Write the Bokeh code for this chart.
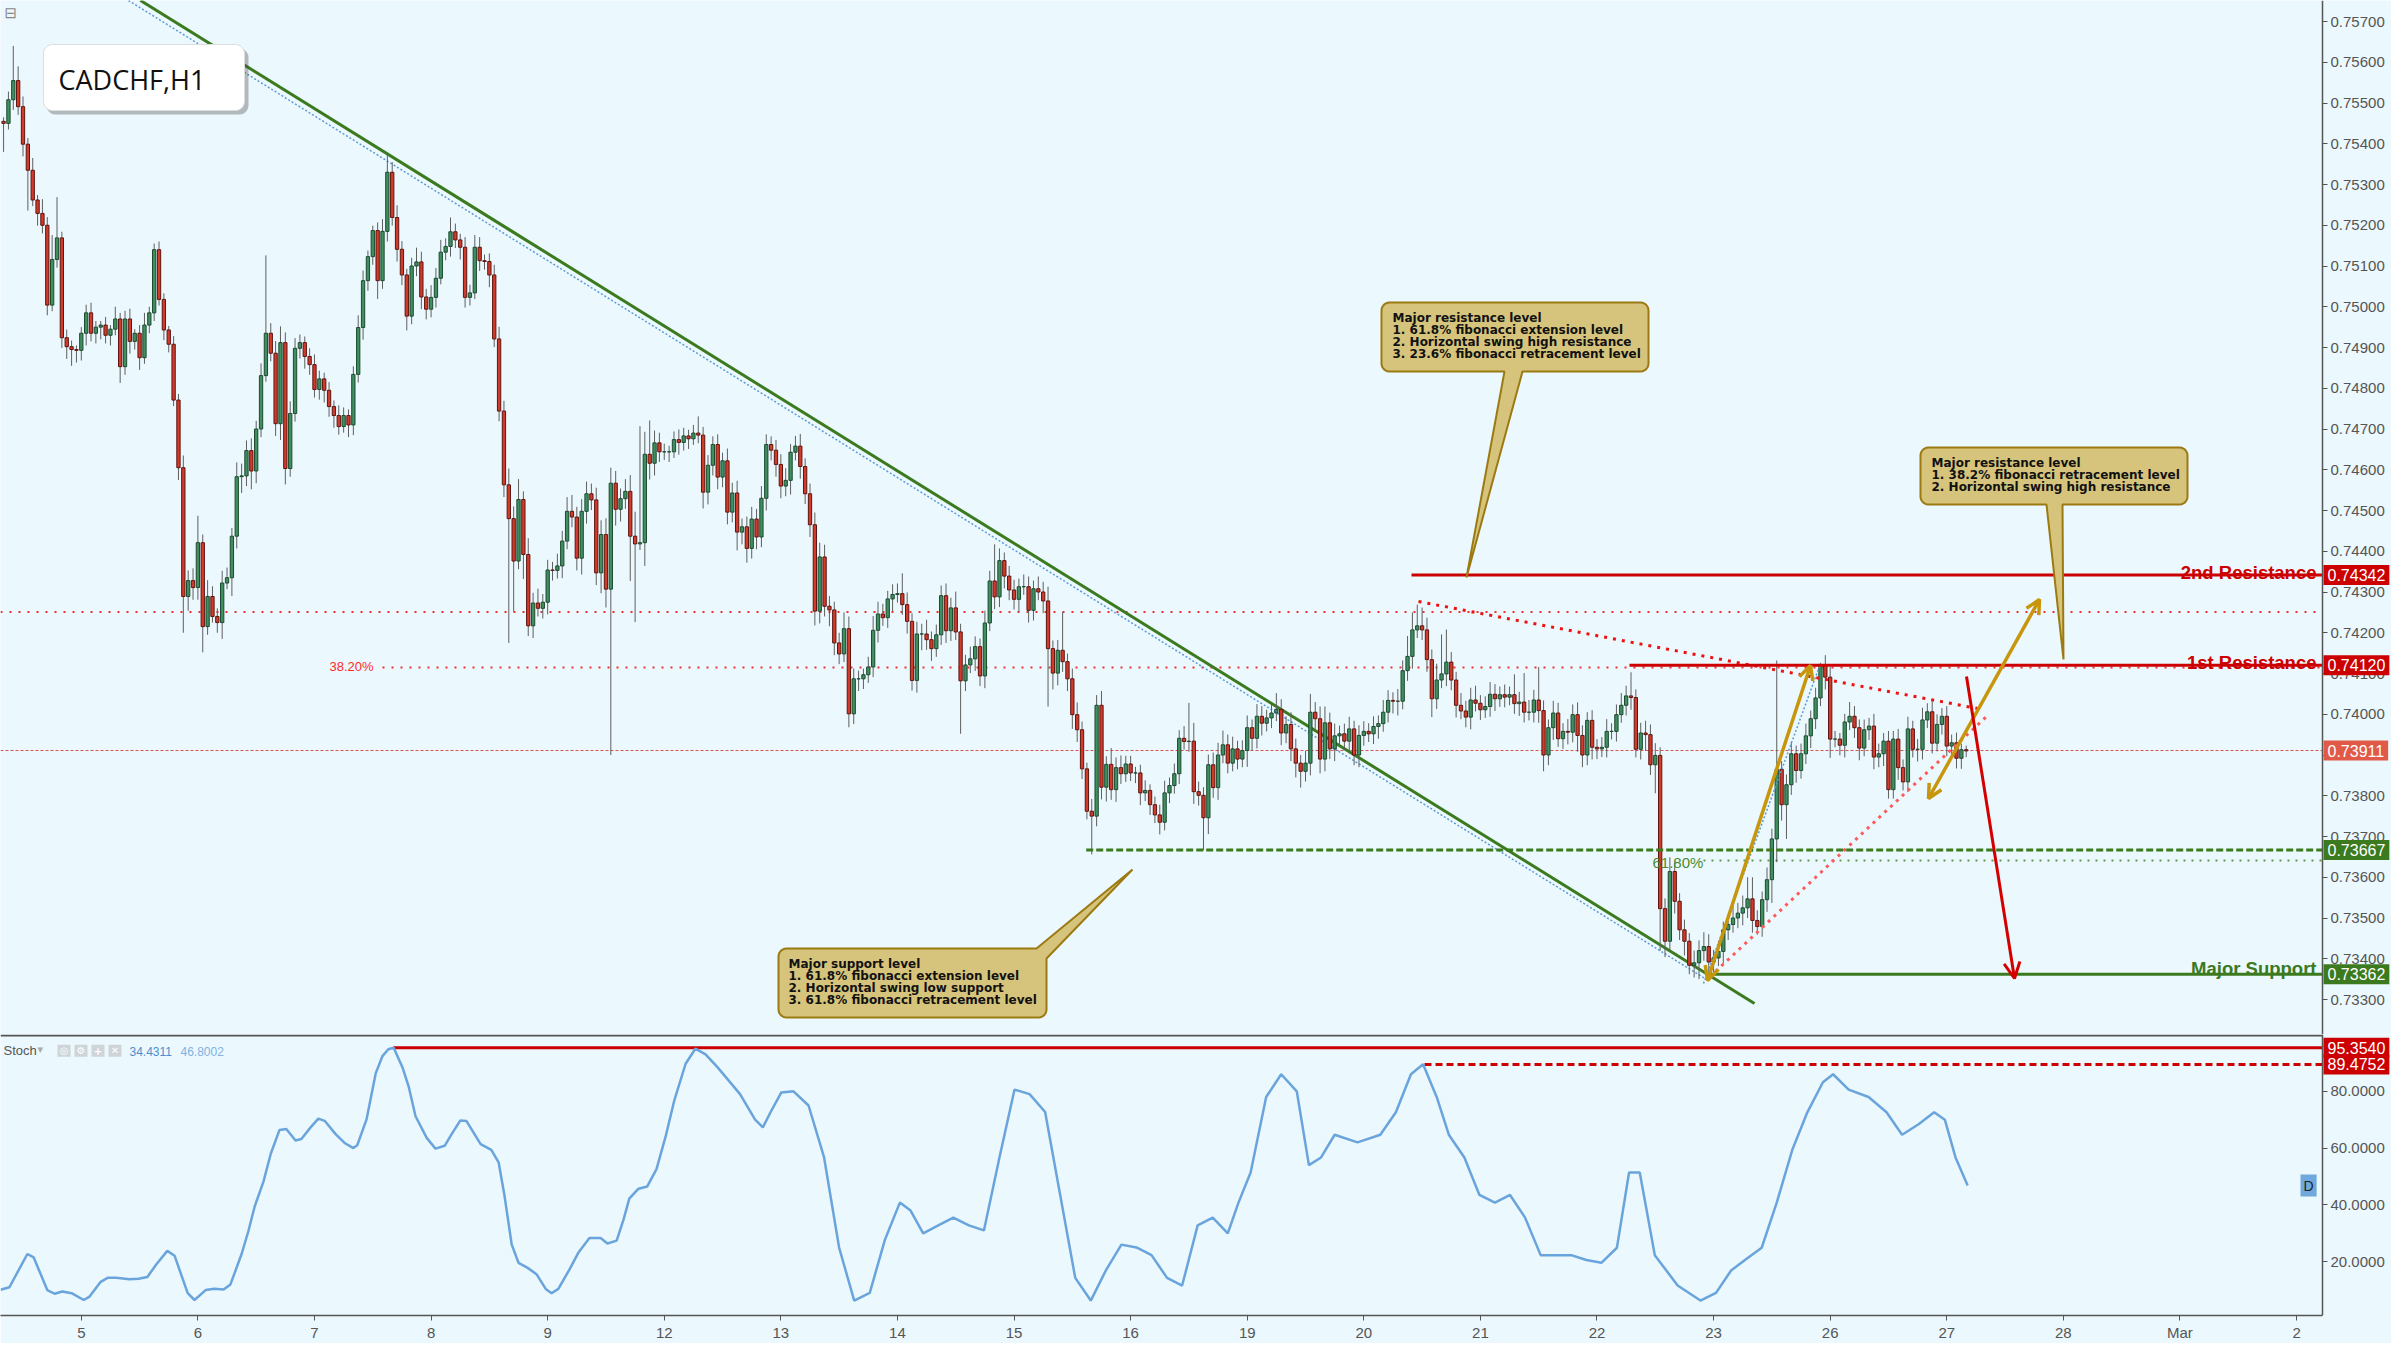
import numpy as np
from bokeh.plotting import figure
from bokeh.layouts import column
from bokeh.models import (Range1d, FixedTicker, NumeralTickFormatter, Label, Arrow, OpenHead, LinearAxis)
from bokeh.embed import file_html
from bokeh.resources import INLINE

# ---------------- DATA ----------------
# hourly CADCHF candles, prices in units of 0.00001; first bar = hour -16 (before the Feb 5 session)
first_open = 75455
close_pre = [75450, 75508, 75555, 75491, 75399, 75335, 75262, 75229, 75200, 75004, 75116, 75169, 74924, 74902, 74895, 74893]
close_d05 = [74935, 74985, 74935, 74950, 74955, 74930, 74945, 74970, 74853, 74970, 74915, 74935, 74875, 74955, 74985, 75140, 75018, 74943, 74908, 74771, 74605, 74289, 74328, 74311]
close_d06 = [74421, 74215, 74289, 74240, 74225, 74322, 74335, 74437, 74583, 74585, 74647, 74597, 74700, 74831, 74935, 74886, 74713, 74912, 74603, 74738, 74898, 74912, 74878, 74858]
close_d07 = [74797, 74823, 74795, 74755, 74733, 74706, 74733, 74710, 74834, 74949, 75064, 75123, 75187, 75064, 75185, 75330, 75219, 75141, 75078, 74977, 75100, 75110, 75024, 74994]
close_d08 = [75023, 75070, 75134, 75148, 75184, 75164, 75146, 75023, 75034, 75146, 75113, 75111, 75078, 74921, 74744, 74563, 74480, 74376, 74527, 74392, 74217, 74273, 74260, 74275]
close_d09 = [74354, 74353, 74364, 74425, 74498, 74484, 74383, 74498, 74541, 74526, 74347, 74441, 74307, 74567, 74503, 74529, 74547, 74437, 74418, 74421, 74638, 74616, 74666, 74644]
close_d12 = [74644, 74644, 74674, 74667, 74683, 74676, 74690, 74685, 74545, 74611, 74662, 74582, 74622, 74496, 74543, 74447, 74460, 74407, 74479, 74435, 74530, 74662, 74648, 74613]
close_d13 = [74560, 74574, 74643, 74658, 74608, 74541, 74465, 74253, 74386, 74265, 74256, 74175, 74148, 74210, 74001, 74087, 74087, 74097, 74116, 74206, 74246, 74237, 74283, 74294]
close_d14 = [74296, 74269, 74228, 74083, 74197, 74197, 74183, 74161, 74195, 74291, 74205, 74261, 74202, 74082, 74121, 74136, 74166, 74094, 74224, 74327, 74288, 74377, 74339, 74305]
close_d15 = [74282, 74313, 74313, 74255, 74308, 74300, 74278, 74161, 74101, 74157, 74129, 74087, 73999, 73962, 73866, 73762, 73750, 74022, 73821, 73877, 73815, 73869, 73854, 73878]
close_d16 = [73856, 73856, 73807, 73813, 73778, 73753, 73735, 73807, 73825, 73854, 73941, 73933, 73934, 73810, 73801, 73746, 73876, 73820, 73900, 73925, 73880, 73915, 73890, 73911]
close_d19 = [73967, 73941, 73995, 73978, 73991, 74003, 74012, 73954, 73975, 73915, 73880, 73860, 73880, 74005, 73989, 73890, 73979, 73915, 73947, 73952, 73934, 73964, 73900, 73948]
close_d20 = [73958, 73952, 73970, 73977, 74005, 74034, 74032, 74032, 74107, 74142, 74207, 74217, 74207, 74134, 74038, 74084, 74099, 74128, 74084, 74022, 74008, 73993, 74035, 74027]
close_d21 = [74011, 74019, 74049, 74038, 74048, 74042, 74048, 74026, 74030, 74005, 74005, 74035, 74009, 73900, 73967, 74003, 73940, 73958, 73956, 73999, 73948, 73900, 73985, 73919]
close_d22 = [73915, 73919, 73958, 73958, 73999, 74022, 74045, 74041, 73914, 73954, 73950, 73876, 73899, 73523, 73443, 73614, 73541, 73471, 73443, 73384, 73390, 73420, 73430, 73392]
close_d23 = [73402, 73418, 73471, 73484, 73500, 73512, 73525, 73547, 73494, 73479, 73545, 73594, 73694, 73865, 73778, 73827, 73903, 73862, 73903, 73947, 73989, 74040, 74120, 74091]
close_d26 = [73939, 73939, 73924, 73981, 73995, 73967, 73917, 73962, 73971, 73895, 73903, 73934, 73815, 73939, 73869, 73834, 73964, 73914, 73914, 73986, 74006, 73929, 73975, 73995]
close_d27 = [73922, 73930, 73892, 73913, 73910]

# upper / lower wick lengths (same units)
up_pre = [10, 20, 85, 35, 25, 15, 30, 12, 35, 20, 60, 100, 15, 20, 15, 10]
dn_pre = [70, 15, 25, 20, 30, 99, 15, 30, 20, 25, 15, 20, 25, 30, 40, 30]
up_d05 = [15, 20, 25, 15, 10, 20, 10, 30, 15, 20, 25, 10, 20, 30, 15, 15, 20, 15, 10, 20, 15, 30, 25, 30]
dn_d05 = [25, 30, 20, 25, 30, 20, 25, 15, 40, 20, 30, 20, 30, 15, 20, 20, 15, 25, 20, 15, 30, 89, 35, 30]
up_d06 = [66, 20, 40, 25, 20, 30, 25, 20, 35, 30, 25, 30, 20, 30, 191, 25, 30, 40, 25, 30, 25, 20, 15, 20]
dn_d06 = [30, 63, 20, 15, 25, 40, 15, 45, 30, 40, 25, 45, 30, 20, 15, 20, 30, 40, 39, 20, 20, 25, 30, 25]
up_d07 = [25, 20, 15, 20, 15, 25, 20, 15, 20, 30, 25, 15, 12, 20, 30, 44, 25, 30, 20, 15, 20, 35, 25, 20]
dn_d07 = [20, 25, 30, 25, 30, 20, 15, 30, 25, 20, 30, 25, 20, 45, 20, 25, 20, 30, 25, 35, 20, 25, 30, 25]
up_d08 = [30, 25, 30, 20, 35, 20, 15, 25, 20, 30, 25, 15, 20, 25, 30, 25, 40, 30, 50, 20, 40, 25, 35, 20]
dn_d08 = [20, 25, 15, 20, 25, 20, 30, 25, 20, 15, 25, 20, 30, 20, 25, 30, 305, 124, 20, 60, 25, 30, 20, 25]
up_d09 = [25, 20, 30, 25, 35, 40, 25, 30, 30, 25, 30, 35, 40, 38, 30, 25, 30, 40, 60, 286, 55, 83, 30, 25]
dn_d09 = [30, 25, 20, 30, 20, 25, 30, 40, 30, 25, 30, 50, 45, 407, 40, 30, 25, 110, 192, 15, 57, 40, 30, 25]
up_d12 = [20, 15, 20, 25, 20, 15, 20, 41, 20, 25, 20, 25, 20, 30, 25, 30, 20, 25, 30, 25, 30, 25, 20, 25]
dn_d12 = [20, 25, 15, 30, 20, 25, 15, 20, 40, 30, 25, 30, 25, 30, 25, 45, 30, 35, 25, 30, 25, 30, 25, 30]
up_d13 = [25, 30, 20, 25, 30, 20, 25, 30, 35, 30, 25, 20, 25, 40, 30, 25, 20, 15, 25, 35, 30, 25, 20, 25]
dn_d13 = [30, 25, 35, 20, 30, 25, 30, 35, 30, 25, 40, 30, 25, 20, 33, 25, 30, 25, 20, 25, 30, 20, 25, 30]
up_d14 = [25, 50, 30, 20, 30, 25, 35, 20, 25, 25, 30, 25, 40, 20, 25, 30, 25, 20, 30, 25, 90, 30, 20, 25]
dn_d14 = [20, 25, 30, 25, 30, 40, 25, 30, 20, 25, 30, 25, 20, 130, 25, 20, 30, 25, 30, 20, 30, 25, 30, 25]
up_d15 = [25, 20, 30, 25, 20, 30, 25, 35, 20, 25, 94, 20, 25, 30, 20, 15, 30, 25, 35, 20, 40, 25, 30, 20]
dn_d15 = [25, 30, 20, 30, 25, 20, 30, 142, 40, 30, 25, 30, 35, 30, 25, 20, 94, 25, 30, 35, 25, 30, 25, 20]
up_d16 = [20, 15, 20, 25, 15, 20, 25, 30, 20, 25, 20, 30, 94, 45, 25, 20, 25, 30, 30, 35, 25, 30, 20, 25]
dn_d16 = [20, 25, 30, 20, 25, 20, 30, 20, 25, 20, 25, 20, 25, 30, 25, 80, 40, 25, 30, 20, 25, 20, 25, 20]
up_d19 = [30, 20, 30, 25, 20, 20, 40, 25, 20, 30, 25, 20, 30, 45, 25, 30, 40, 25, 30, 20, 25, 30, 20, 25]
dn_d19 = [40, 30, 25, 30, 20, 25, 20, 30, 25, 30, 35, 40, 25, 30, 25, 35, 30, 25, 30, 25, 20, 30, 25, 30]
up_d20 = [25, 20, 25, 20, 30, 25, 20, 30, 25, 50, 43, 52, 45, 30, 25, 40, 97, 80, 25, 20, 30, 25, 30, 35]
dn_d20 = [25, 20, 25, 30, 20, 25, 30, 35, 20, 25, 30, 20, 25, 30, 45, 25, 20, 30, 25, 30, 20, 25, 30, 20]
up_d21 = [20, 25, 30, 25, 20, 25, 20, 50, 25, 71, 30, 25, 81, 25, 20, 30, 25, 20, 30, 25, 30, 25, 20, 25]
dn_d21 = [25, 20, 25, 30, 20, 25, 20, 25, 30, 25, 20, 25, 30, 40, 25, 30, 20, 25, 30, 25, 40, 30, 25, 30]
up_d22 = [20, 25, 30, 20, 25, 30, 25, 58, 20, 25, 30, 25, 30, 20, 25, 35, 25, 20, 25, 20, 30, 25, 35, 30]
dn_d22 = [25, 20, 25, 20, 25, 20, 25, 30, 20, 25, 40, 25, 70, 103, 39, 25, 30, 25, 35, 22, 30, 40, 25, 30]
up_d23 = [20, 25, 20, 25, 30, 25, 30, 53, 53, 25, 20, 30, 25, 267, 20, 25, 30, 20, 25, 30, 20, 25, 6, 25]
dn_d23 = [25, 20, 30, 25, 20, 25, 30, 25, 30, 20, 25, 30, 57, 57, 39, 84, 25, 30, 20, 25, 30, 25, 20, 30]
up_d26 = [25, 20, 15, 20, 35, 25, 20, 25, 20, 30, 25, 20, 25, 20, 25, 20, 30, 20, 25, 30, 21, 30, 25, 20]
dn_d26 = [46, 20, 25, 30, 20, 25, 30, 20, 25, 30, 25, 30, 22, 22, 30, 21, 25, 20, 30, 25, 20, 25, 20, 25]
up_d27 = [25, 20, 25, 15, 10]
dn_d27 = [25, 30, 25, 26, 15]

day_labels = ["5", "6", "7", "8", "9", "12", "13", "14", "15", "16", "19", "20", "21", "22", "23", "26", "27", "28", "Mar", "2"]
price_ticks = [0.733, 0.734, 0.735, 0.736, 0.737, 0.738, 0.739, 0.740, 0.741, 0.742, 0.743, 0.744, 0.745,
               0.746, 0.747, 0.748, 0.749, 0.750, 0.751, 0.752, 0.753, 0.754, 0.755, 0.756, 0.757]
stoch_ticks = [20, 40, 60, 80]

# stochastic %K (hour, value)
stoch_pts = [(-16.6,10.1),(-14.8,11.0),(-11.1,22.7),(-9.8,21.5),(-7.0,10.0),(-5.5,8.7),(-3.9,9.5),(-2.0,8.9),(0.5,6.5),(1.7,7.7),(4.0,12.9),(5.4,14.3),(7.2,14.3),(9.9,13.8),(11.8,14.0),(13.6,14.6),(15.5,19.2),(17.7,23.8),(19.2,22.1),(21.9,8.9),(23.3,6.5),(25.6,10.0),(27.4,10.5),(29.3,10.2),(30.7,12.0),(33.0,22.7),(34.4,30.8),(35.7,39.5),(37.5,48.2),(39.0,58.0),(40.8,66.4),(42.2,66.7),(44.1,62.7),(45.3,63.2),(47.2,67.3),(48.8,70.4),(50.1,69.6),(52.3,65.0),(54.2,61.8),(56.0,60.0),(56.8,61.0),(58.7,70.0),(60.6,86.3),(62.0,92.4),(63.2,94.8),(64.3,95.35),(66.1,88.5),(67.4,81.6),(68.8,71.2),(71.1,63.6),(72.9,59.8),(74.8,60.8),(76.2,64.8),(78.0,69.7),(79.3,69.5),(82.2,61.4),(84.4,59.4),(85.9,55.0),(87.1,43.4),(88.6,26.0),(90.0,19.6),(91.8,17.9),(93.7,15.6),(95.6,10.4),(96.8,8.9),(98.2,10.4),(100.5,17.3),(102.3,23.1),(104.6,28.3),(106.9,28.3),(108.3,26.4),(110.2,27.4),(111.6,34.7),(112.8,42.2),(114.7,45.7),(116.5,46.5),(118.4,52.6),(120.3,64.2),(122.1,77.0),(124.4,89.7),(126.4,95.0),(128.5,93.0),(130.9,88.6),(135.6,79.0),(138.7,70.0),(140.3,67.3),(141.9,72.7),(144.1,79.6),(146.6,80.0),(149.7,75.0),(152.9,56.7),(156.0,24.9),(159.1,6.3),(162.3,9.0),(165.4,27.6),(168.5,40.8),(170.7,38.0),(173.3,30.0),(176.4,32.8),(179.5,35.5),(182.7,32.8),(185.8,31.0),(189.0,56.7),(192.1,80.6),(195.2,79.0),(198.4,72.7),(201.5,43.5),(204.6,14.3),(207.8,6.3),(210.9,16.9),(214.1,26.0),(217.2,25.0),(220.3,22.3),(223.5,14.3),(226.6,11.6),(229.8,32.8),(232.9,35.5),(236.0,30.0),(238.2,40.8),(240.7,51.4),(243.9,78.0),(247.0,86.0),(250.2,80.0),(252.7,54.0),(255.2,56.7),(258.0,64.7),(262.7,62.0),(267.4,64.7),(270.6,72.6),(273.7,86.0),(276.2,89.5),(279.0,78.0),(281.5,64.7),(284.7,56.7),(287.8,43.5),(291.0,40.8),(294.1,43.5),(297.2,35.5),(300.4,22.3),(303.5,22.3),(306.7,22.3),(309.8,20.6),(312.9,19.6),(316.1,24.9),(318.6,51.4),(320.8,51.4),(323.9,22.3),(328.6,11.6),(333.3,6.3),(336.5,9.0),(339.6,16.9),(342.8,21.0),(345.9,24.9),(349.0,40.8),(352.2,59.4),(355.3,72.6),(358.5,83.2),(360.6,86.0),(363.8,80.6),(367.9,78.0),(371.6,72.6),(374.8,64.7),(378.2,68.4),(381.4,72.6),(383.6,70.0),(385.8,56.7),(388.3,46.8)]

# levels
res2_level = 0.74342
res1_level = 0.74120
last_price = 0.73911
swing_low_level = 0.73667
support_level = 0.73362
fib_236 = 0.74251
fib_382 = 0.74115
fib_618 = 0.73641
stoch_max = 95.3540
stoch_max2 = 89.4752
stoch_k_last = 34.4311
stoch_d_last = 46.8002

# ---------------- assembly ----------------
closes = (close_pre + close_d05 + close_d06 + close_d07 + close_d08 + close_d09 + close_d12 + close_d13 +
          close_d14 + close_d15 + close_d16 + close_d19 + close_d20 + close_d21 + close_d22 + close_d23 +
          close_d26 + close_d27)
ups = (up_pre + up_d05 + up_d06 + up_d07 + up_d08 + up_d09 + up_d12 + up_d13 + up_d14 + up_d15 + up_d16 +
       up_d19 + up_d20 + up_d21 + up_d22 + up_d23 + up_d26 + up_d27)
dns = (dn_pre + dn_d05 + dn_d06 + dn_d07 + dn_d08 + dn_d09 + dn_d12 + dn_d13 + dn_d14 + dn_d15 + dn_d16 +
       dn_d19 + dn_d20 + dn_d21 + dn_d22 + dn_d23 + dn_d26 + dn_d27)
n = min(len(closes), len(ups), len(dns))
closes, ups, dns = closes[:n], ups[:n], dns[:n]
hours = list(range(-16, -16 + n))
opens = [first_open] + closes[:-1]
SC = 1e-5
o_p = [v * SC for v in opens]
c_p = [v * SC for v in closes]
h_p = [(max(o, c) + u) * SC for o, c, u in zip(opens, closes, ups)]
l_p = [(min(o, c) - d) * SC for o, c, d in zip(opens, closes, dns)]
top_p = [max(a, b) for a, b in zip(o_p, c_p)]
bot_p = [min(a, b) for a, b in zip(o_p, c_p)]
is_up = [c >= o for o, c in zip(opens, closes)]
body_fill = ["#3f8f60" if u else "#d13b2b" for u in is_up]
body_line = ["#1e4a30" if u else "#5e1510" for u in is_up]

stoch_h = [a for a, b in stoch_pts]
stoch_v = [b for a, b in stoch_pts]

# ---------------- geometry helpers (reference pixel -> data) ----------------
def HX(px):
    return (px - 80.8) / 4.858

def PY(py):
    return 0.757 - (py - 21) / 40750.0

def SY(py):
    return 100 - (py - 1034.5) / 2.875

BG = "#ebf8fd"
AX = "#555555"
RED = "#cc0000"
GREEN = "#3b7a1e"
GOLD = "#c8960c"
x_start, x_end, x_right = HX(0), HX(2322), HX(2391)

def style_axis(ax):
    ax.axis_line_color = AX
    ax.axis_line_width = 1.5
    ax.major_tick_line_color = AX
    ax.major_tick_out = 5
    ax.major_tick_in = 0
    ax.minor_tick_line_color = None
    ax.major_label_text_font = "Liberation Sans"
    ax.major_label_text_font_size = "15px"
    ax.major_label_text_color = AX
    ax.major_label_standoff = 3

# ---------------- main price panel ----------------
p = figure(frame_width=2391, frame_height=1034, x_range=Range1d(x_start, x_right),
           y_range=Range1d(PY(1034), PY(0)), output_backend="svg", toolbar_location=None,
           y_axis_location=None, x_axis_location=None,
           min_border_left=0, min_border_top=0, min_border_bottom=0, min_border_right=0,
           background_fill_color=BG, border_fill_color=BG, outline_line_color=None)
p.grid.visible = False
price_axis = LinearAxis(fixed_location=x_end, ticker=FixedTicker(ticks=price_ticks),
                        formatter=NumeralTickFormatter(format="0.00000"))
style_axis(price_axis)
p.add_layout(price_axis, "right")

# horizontal reference lines
p.segment(x0=[x_start], y0=[fib_236], x1=[x_end], y1=[fib_236], line_color="#f03030", line_width=2, line_dash="2 7")
p.segment(x0=[HX(382)], y0=[fib_382], x1=[x_end], y1=[fib_382], line_color="#f03030", line_width=2, line_dash="2 7")
p.segment(x0=[x_start], y0=[last_price], x1=[x_end], y1=[last_price], line_color="#d9534f", line_width=1, line_dash="3 2")
p.segment(x0=[HX(1703)], y0=[fib_618], x1=[x_end], y1=[fib_618], line_color="#5f9f45", line_width=2, line_dash="2 6")

# descending trendline
p.line([HX(128), HX(1706)], [PY(0), PY(979)], line_color="#5b9bd5", line_width=1.5, line_dash="2 2")
p.line([HX(140), HX(1754)], [PY(0), PY(1003)], line_color=GREEN, line_width=3)

# candles
p.segment(x0=hours, y0=l_p, x1=hours, y1=h_p, line_color="#5f5f5f", line_width=1)
p.vbar(x=hours, width=0.68, top=top_p, bottom=bot_p, fill_color=body_fill, line_color=body_line, line_width=1)

# fib tool line and diagonal dotted lines
p.line([HX(1703), HX(1820)], [PY(983), PY(663)], line_color="#5b9bd5", line_width=1.5, line_dash="2 2")
p.line([HX(1418), HX(1977)], [PY(601), PY(708)], line_color="#ee1111", line_width=3, line_dash="3 6")
p.line([HX(1715), HX(1986)], [PY(971), PY(716)], line_color="#ff5a5a", line_width=3, line_dash="3 5")

# support / resistance
p.segment(x0=[HX(1085.7)], y0=[swing_low_level], x1=[x_end], y1=[swing_low_level], line_color=GREEN, line_width=3, line_dash="7 3")
p.segment(x0=[HX(1706)], y0=[support_level], x1=[x_end], y1=[support_level], line_color=GREEN, line_width=3)
p.segment(x0=[HX(1411)], y0=[res2_level], x1=[x_end], y1=[res2_level], line_color=RED, line_width=3)
p.segment(x0=[HX(1629)], y0=[res1_level], x1=[x_end], y1=[res1_level], line_color=RED, line_width=3)

# rounded callout boxes
def rbox(x0, y0, x1, y1, r, bottom_ptr=None, corner_ptr=None):
    pts = []
    def arc(cx, cy, a0, a1):
        for t in np.linspace(a0, a1, 7):
            pts.append((cx + r * np.cos(t), cy + r * np.sin(t)))
    arc(x0 + r, y0 + r, np.pi, 1.5 * np.pi)
    if corner_ptr:
        ax_, tip, by = corner_ptr
        pts.append((ax_, y0)); pts.append(tip); pts.append((x1, by))
    else:
        arc(x1 - r, y0 + r, 1.5 * np.pi, 2 * np.pi)
    arc(x1 - r, y1 - r, 0, 0.5 * np.pi)
    if bottom_ptr:
        bx0, bx1, tip = bottom_ptr
        pts.append((bx1, y1)); pts.append(tip); pts.append((bx0, y1))
    arc(x0 + r, y1 - r, 0.5 * np.pi, np.pi)
    return [HX(a) for a, b in pts], [PY(b) for a, b in pts]

CF, CL = "#d6c47c", "#9c7a12"
xs, ys = rbox(1381, 302, 1648, 371, 8, bottom_ptr=(1504, 1522, (1466, 577)))
p.patch(xs, ys, fill_color=CF, line_color=CL, line_width=2)
xs, ys = rbox(1920, 447, 2187, 504, 8, bottom_ptr=(2046, 2062, (2063, 659)))
p.patch(xs, ys, fill_color=CF, line_color=CL, line_width=2)
xs, ys = rbox(778, 948, 1046, 1017, 8, corner_ptr=(1036, (1132, 869), 958))
p.patch(xs, ys, fill_color=CF, line_color=CL, line_width=2)

# title box with shadow
xs, ys = rbox(46, 48, 248, 114, 9)
p.patch(xs, ys, fill_color="#444444", fill_alpha=0.35, line_color=None)
xs, ys = rbox(43, 44, 244, 110, 9)
p.patch(xs, ys, fill_color="#ffffff", line_color="#dddddd", line_width=1)

def lab(fig, x, y, text, size="12px", color="#111111", font="DejaVu Sans", style="bold", align="left", base="middle", **kw):
    fig.add_layout(Label(x=x, y=y, text=text, text_font=font, text_font_size=size, text_color=color,
                         text_font_style=style, text_align=align, text_baseline=base, **kw))

lab(p, HX(58), PY(79), "CADCHF,H1", size="27px", font="Open Sans", style="normal")
lab(p, HX(4), PY(12), "\u229f", size="15px", color="#888888", style="normal")

callout1 = ["Major resistance level", "1. 61.8% fibonacci extension level",
            "2. Horizontal swing high resistance", "3. 23.6% fibonacci retracement level"]
callout2 = ["Major resistance level", "1. 38.2% fibonacci retracement level",
            "2. Horizontal swing high resistance"]
callout3 = ["Major support level", "1. 61.8% fibonacci extension level",
            "2. Horizontal swing low support", "3. 61.8% fibonacci retracement level"]
for i, t in enumerate(callout1):
    lab(p, HX(1392), PY(317 + 12 * i), t)
for i, t in enumerate(callout2):
    lab(p, HX(1931), PY(462 + 12.3 * i), t)
for i, t in enumerate(callout3):
    lab(p, HX(788), PY(963 + 12 * i), t)

lab(p, HX(2316), PY(572), "2nd Resistance", size="18.5px", color=RED, font="Liberation Sans", align="right", base="alphabetic")
lab(p, HX(2316), PY(662), "1st Resistance", size="18.5px", color=RED, font="Liberation Sans", align="right", base="alphabetic")
lab(p, HX(2316), PY(968), "Major Support", size="18.5px", color=GREEN, font="Liberation Sans", align="right", base="alphabetic")
lab(p, HX(329), PY(666), "38.20%", size="13px", color="#ff2a2a", font="Liberation Sans", style="normal")
lab(p, HX(1652), PY(862), "61.80%", size="15px", color="#4c8c2c", font="Liberation Sans", style="normal")

# arrows
p.add_layout(Arrow(start=OpenHead(size=14, line_color=GOLD, line_width=3.5),
                   end=OpenHead(size=14, line_color=GOLD, line_width=3.5),
                   x_start=HX(1707), y_start=PY(980), x_end=HX(1810), y_end=PY(665),
                   line_color=GOLD, line_width=3.5))
p.add_layout(Arrow(start=OpenHead(size=14, line_color=GOLD, line_width=3.5),
                   end=OpenHead(size=14, line_color=GOLD, line_width=3.5),
                   x_start=HX(1928), y_start=PY(798), x_end=HX(2039), y_end=PY(599),
                   line_color=GOLD, line_width=3.5))
p.add_layout(Arrow(end=OpenHead(size=16, line_color="#d40000", line_width=3),
                   x_start=HX(1966), y_start=PY(676), x_end=HX(2014), y_end=PY(978),
                   line_color="#d40000", line_width=3))

def tag(fig, y, text, color):
    fig.add_layout(Label(x=x_end, y=y, text=text, text_font="Liberation Sans", text_font_size="16px",
                         text_color="white", text_align="left", text_baseline="middle",
                         background_fill_color=color, x_offset=1, padding=4))

tag(p, res2_level, "0.74342", RED)
tag(p, res1_level, "0.74120", RED)
tag(p, last_price, "0.73911", "#e05a47")
tag(p, swing_low_level, "0.73667", GREEN)
tag(p, support_level, "0.73362", GREEN)

# ---------------- stochastic panel ----------------
s = figure(frame_width=2391, frame_height=281, x_range=p.x_range, y_range=Range1d(SY(1319), 100),
           output_backend="svg", toolbar_location=None, y_axis_location=None,
           min_border_left=0, min_border_top=0, min_border_bottom=0, min_border_right=0,
           background_fill_color=BG, border_fill_color=BG, outline_line_color=None)
s.grid.visible = False
stoch_axis = LinearAxis(fixed_location=x_end, ticker=FixedTicker(ticks=stoch_ticks),
                        formatter=NumeralTickFormatter(format="0.0000"))
style_axis(stoch_axis)
s.add_layout(stoch_axis, "right")
day_ticks = [24 * i for i in range(len(day_labels))]
s.xaxis.ticker = FixedTicker(ticks=day_ticks)
s.xaxis.major_label_overrides = {t: l for t, l in zip(day_ticks, day_labels)}
style_axis(s.xaxis[0])
s.xaxis.bounds = (x_start, x_end)

# panel separator
s.segment(x0=[x_start], y0=[SY(1035.5)], x1=[x_end], y1=[SY(1035.5)], line_color=AX, line_width=2)

s.segment(x0=[HX(393)], y0=[stoch_max], x1=[x_end], y1=[stoch_max], line_color=RED, line_width=3)
s.segment(x0=[HX(1424)], y0=[stoch_max2], x1=[x_end], y1=[stoch_max2], line_color=RED, line_width=3, line_dash="7 4")
s.line(stoch_h, stoch_v, line_color="#6aa4dc", line_width=2.5)

# header
lab(s, HX(3), SY(1051), "Stoch", size="13px", color="#555555", font="Liberation Sans", style="normal")
lab(s, HX(37), SY(1050), "\u25be", size="11px", color="#aaaaaa", style="normal")
s.quad(left=[HX(57), HX(74), HX(91), HX(108)], right=[HX(70), HX(87), HX(104), HX(121)],
       top=[SY(1045)] * 4, bottom=[SY(1057)] * 4, fill_color="#cfd4d8", line_color=None)
for px, ch in zip([63.5, 80.5, 97.5, 114.5], ["\u25ce", "\u2699", "+", "\u2715"]):
    lab(s, HX(px), SY(1051), ch, size="10px", color="#ffffff", align="center")
lab(s, HX(129), SY(1052), "%.4f" % stoch_k_last, size="12px", color="#4a8fd0", font="Liberation Sans", style="normal")
lab(s, HX(180), SY(1052), "%.4f" % stoch_d_last, size="12px", color="#7fb2e2", font="Liberation Sans", style="normal")
lab(s, HX(2300), stoch_d_last, "D", size="14px", color="#222222", font="Liberation Sans", style="normal",
    background_fill_color="#6fa8dc", padding=3)

tag(s, stoch_max, "95.3540", RED)
tag(s, stoch_max2, "89.4752", RED)

layout = column(p, s)
open("out.html", "w").write(file_html(layout, INLINE))
